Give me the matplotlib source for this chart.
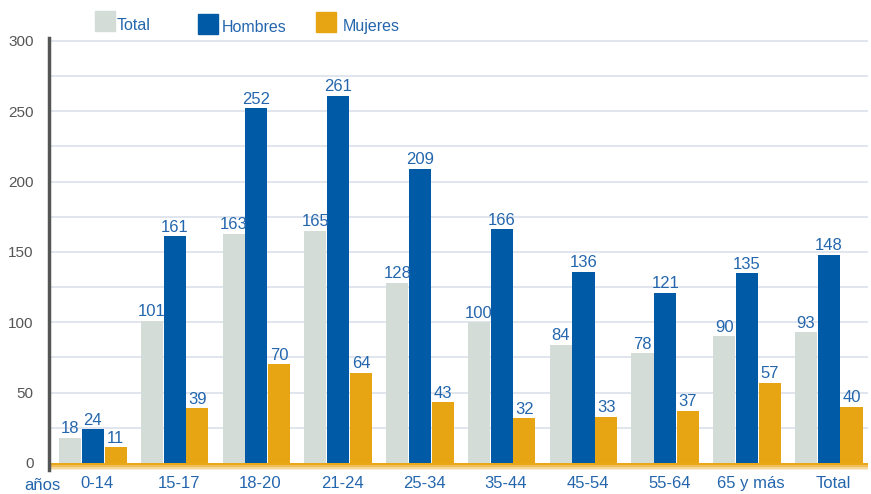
import matplotlib.pyplot as plt
import numpy as np
from matplotlib.patches import Rectangle

plt.rcParams['font.family'] = ['Liberation Sans', 'DejaVu Sans']

# Datos por grupo de edad
grupos = ['0-14', '15-17', '18-20', '21-24', '25-34', '35-44', '45-54', '55-64', '65 y más', 'Total']
total = [18, 101, 163, 165, 128, 100, 84, 78, 90, 93]
hombres = [24, 161, 252, 261, 209, 166, 136, 121, 135, 148]
mujeres = [11, 39, 70, 64, 43, 32, 33, 37, 57, 40]
series = ['Total', 'Hombres', 'Mujeres']
colores = ['#d4dcd8', '#005aa6', '#e7a413']

azul_txt = '#2466ad'

fig = plt.figure(figsize=(8.71, 4.94), dpi=100)
ax = fig.add_axes([49/871, 1 - 470/494, (868 - 49)/871, (470 - 38)/494])

x = np.arange(len(grupos))
ancho = 0.27
desp = 0.278
for k, (vals, col) in enumerate(zip([total, hombres, mujeres], colores)):
    pos = x + (k - 1) * desp - 0.05
    ax.bar(pos, vals, width=ancho, color=col, zorder=3)
    for px, v in zip(pos, vals):
        ax.text(px, v + 1, str(v), ha='center', va='bottom', fontsize=12,
                color=azul_txt, zorder=4)

# lineas de la cuadricula
for g in range(25, 301, 25):
    ax.axhline(g, color='#dce2eb', lw=1.2, zorder=1)

# banda naranja en la base
franjas = [('#e9a619', 0, -1.6), ('#f0bd5a', -1.6, -3.0), ('#f6d79a', -3.0, -4.2), ('#fbebd0', -4.2, -5)]
for c, a, b in franjas:
    ax.axhspan(b, a, color=c, zorder=2, lw=0)

ax.set_xlim(-0.587, 9.43)
ax.set_ylim(-5, 302)
ax.set_yticks([0, 50, 100, 150, 200, 250, 300])
ax.set_xticks(x)
ax.set_xticklabels(grupos)
ax.tick_params(axis='y', length=0, pad=11, labelsize=11, labelcolor='#555555')
ax.tick_params(axis='x', length=0, pad=4, labelsize=12, labelcolor=azul_txt)
for s in ['top', 'right', 'bottom']:
    ax.spines[s].set_visible(False)
ax.spines['left'].set_color('#555555')
ax.spines['left'].set_linewidth(2.5)

fig.text(24/871, 1 - 485/494, 'años', fontsize=12, color=azul_txt, va='center')

# leyenda
cuadros = [(95, 11), (198, 14), (316, 12)]
textos_y = [25, 27, 26]
textos_x = [117, 222, 343]
for (cx, cy), tx, ty, nom, col in zip(cuadros, textos_x, textos_y, series, colores):
    fig.add_artist(Rectangle((cx/871, 1 - (cy + 20)/494), 20/871, 20/494,
                             transform=fig.transFigure, color=col))
    fig.text(tx/871, 1 - ty/494, nom, fontsize=11.5, color=azul_txt, va='center')

fig.savefig('out.png', dpi=100)
